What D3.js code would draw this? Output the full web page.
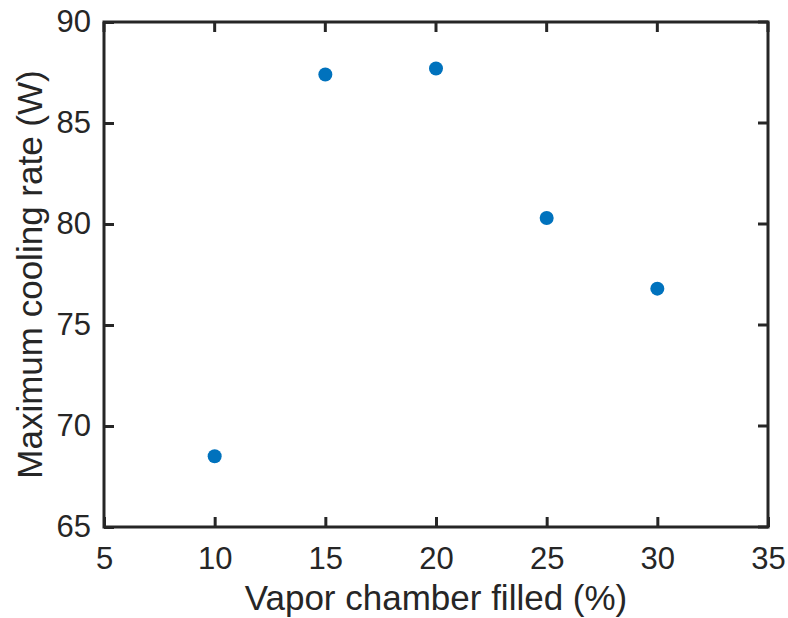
<!DOCTYPE html>
<html>
<head>
<meta charset="utf-8">
<script src="https://cdn.jsdelivr.net/npm/d3@7"></script>
<style>
  body { margin: 0; background: #fff; }
  text { font-family: "Liberation Sans", Arial, sans-serif; fill: #262626; }
</style>
</head>
<body>
<script>
// data
var filled = [10, 15, 20, 25, 30];
var cooling = [68.5, 87.4, 87.7, 80.3, 76.8];
var xTicks = [5, 10, 15, 20, 25, 30, 35];
var yTicks = [65, 70, 75, 80, 85, 90];

var width = 788, height = 618;
var mLeft = 104, mRight = 768, mTop = 22, mBottom = 527;

var svg = d3.select("body").append("svg")
  .attr("width", width)
  .attr("height", height);

var x = d3.scaleLinear().domain([5, 35]).range([mLeft, mRight]);
var y = d3.scaleLinear().domain([65, 90]).range([mBottom, mTop]);

// Box
svg.append("rect")
  .attr("x", mLeft).attr("y", mTop)
  .attr("width", mRight - mLeft).attr("height", mBottom - mTop)
  .attr("fill", "none").attr("stroke", "#262626").attr("stroke-width", 3);

// X axis, ticks inside
var xAxis = svg.append("g")
  .attr("transform", "translate(0," + mBottom + ")")
  .call(d3.axisBottom(x).tickValues(xTicks).tickSizeInner(-10).tickSizeOuter(0).tickPadding(20));
xAxis.select(".domain").remove();
xAxis.selectAll("line").attr("stroke", "#262626").attr("stroke-width", 3);
xAxis.selectAll("text").attr("font-size", 31).attr("fill", "#262626");

// Y axis
var yAxis = svg.append("g")
  .attr("transform", "translate(" + mLeft + ",0)")
  .call(d3.axisLeft(y).tickValues(yTicks).tickSizeInner(-10).tickSizeOuter(0).tickPadding(13));
yAxis.select(".domain").remove();
yAxis.selectAll("line").attr("stroke", "#262626").attr("stroke-width", 3);
yAxis.selectAll("text").attr("font-size", 31).attr("fill", "#262626");

// Right & top mirrored ticks
svg.append("g").selectAll("line").data(yTicks).enter().append("line")
  .attr("x1", mRight).attr("x2", mRight - 10)
  .attr("y1", d => y(d)).attr("y2", d => y(d))
  .attr("stroke", "#262626").attr("stroke-width", 3);
svg.append("g").selectAll("line").data(xTicks).enter().append("line")
  .attr("y1", mTop).attr("y2", mTop + 10)
  .attr("x1", d => x(d)).attr("x2", d => x(d))
  .attr("stroke", "#262626").attr("stroke-width", 3);

// Axis titles
svg.append("text")
  .attr("x", (mLeft + mRight) / 2).attr("y", 610)
  .attr("text-anchor", "middle").attr("font-size", 35)
  .text("Vapor chamber filled (%)");
svg.append("text")
  .attr("transform", "translate(42," + (mTop + mBottom) / 2 + ") rotate(-90)")
  .attr("text-anchor", "middle").attr("font-size", 35)
  .text("Maximum cooling rate (W)");

// Points
svg.append("g").selectAll("circle").data(filled).enter().append("circle")
  .attr("cx", d => x(d))
  .attr("cy", (d, i) => y(cooling[i]))
  .attr("r", 7)
  .attr("fill", "#0072BD");
</script>
</body>
</html>
